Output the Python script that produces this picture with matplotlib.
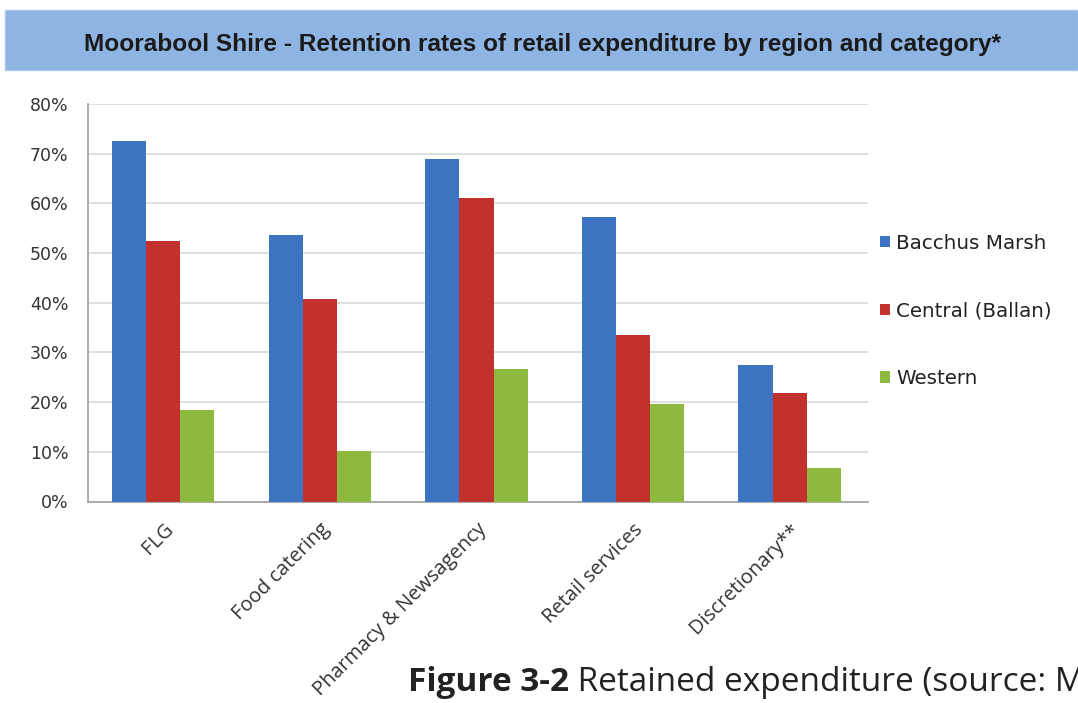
import matplotlib
matplotlib.use("Agg")
import matplotlib.pyplot as plt
from matplotlib.patches import Rectangle
from matplotlib.text import Annotation
from matplotlib import font_manager as fm
import numpy as np

categories = ["FLG", "Food catering", "Pharmacy & Newsagency", "Retail services", "Discretionary**"]
series_names = ["Bacchus Marsh", "Central (Ballan)", "Western"]
bacchus_marsh = [0.726, 0.537, 0.689, 0.572, 0.275]
central_ballan = [0.524, 0.408, 0.610, 0.335, 0.218]
western = [0.185, 0.101, 0.266, 0.196, 0.068]
y_ticks = [0.0, 0.1, 0.2, 0.3, 0.4, 0.5, 0.6, 0.7, 0.8]
y_tick_labels = ["0%", "10%", "20%", "30%", "40%", "50%", "60%", "70%", "80%"]
title = "Moorabool Shire - Retention rates of retail expenditure by region and category*"
caption_bold = "Figure 3-2"
caption_rest = " Retained expenditure (source: M"

colors = ["#3D74C2", "#C2312E", "#8DB93F"]

# pick the regular-width Liberation Sans Bold (not the Narrow variant)
title_font = None
for f in fm.fontManager.ttflist:
    if f.name == "Liberation Sans" and f.weight in (700, "bold") and f.style == "normal" \
            and "Narrow" not in f.fname:
        title_font = fm.FontProperties(fname=f.fname, size=17.6)
        break
if title_font is None:
    title_font = fm.FontProperties(family="DejaVu Sans", weight="bold", size=15.5)

W, H = 1078, 703
fig = plt.figure(figsize=(W / 100, H / 100), dpi=100)
fig.patch.set_facecolor("white")

# title banner
fig.patches.append(Rectangle((5 / W, 1 - 70 / H), 1 - 5 / W, 60 / H,
                             transform=fig.transFigure, facecolor="#8EB4E3",
                             edgecolor="#A9C6EA", linewidth=1, zorder=0))
fig.text(542 / W, 1 - 45 / H, title, ha="center", va="center",
         fontproperties=title_font, color="#1a1a1a")

ax = fig.add_axes([88 / W, 1 - 501.5 / H, (868 - 88) / W, (501.5 - 104) / H])
x = np.arange(len(categories))
bw = 0.218
for i, (vals, name) in enumerate(zip([bacchus_marsh, central_ballan, western], series_names)):
    ax.bar(x + (i - 1) * bw, vals, width=bw, color=colors[i], label=name, zorder=3)

ax.set_xlim(-0.48, len(categories) - 0.5)
ax.set_ylim(0, 0.8)
ax.set_yticks(y_ticks)
ax.set_yticklabels(y_tick_labels, family="DejaVu Sans", fontsize=12.5, color="#333333")
ax.yaxis.grid(True, color="#d9d9d9", linewidth=1.2, zorder=0)
ax.set_axisbelow(True)
ax.tick_params(axis="y", length=0, pad=14)
ax.tick_params(axis="x", length=0, pad=13)
ax.set_xticks(x)
ax.set_xticklabels(categories, rotation=45, ha="right", rotation_mode="anchor",
                   family="Open Sans", fontsize=14.5, color="#333333")
for s in ["top", "right"]:
    ax.spines[s].set_visible(False)
for s in ["left", "bottom"]:
    ax.spines[s].set_color("#a6a6a6")
    ax.spines[s].set_linewidth(1.3)

leg = fig.legend(loc="center left", bbox_to_anchor=(880 / W, 1 - 311 / H),
                 frameon=False, handlelength=0.5, handleheight=0.5,
                 handletextpad=0.3, labelspacing=2.45, borderpad=0, borderaxespad=0,
                 prop={"family": "DejaVu Sans", "size": 14.3})
for t in leg.get_texts():
    t.set_color("#222222")

cap1 = fig.text(408 / W, 1 - 691 / H, caption_bold, ha="left", va="baseline",
                fontsize=24, fontweight="bold", family="Open Sans", color="#222222")
a2 = Annotation(caption_rest, xy=(1, 0), xycoords=cap1, ha="left", va="bottom",
                fontsize=24, family="Open Sans", color="#222222")
fig.add_artist(a2)

fig.savefig("out.png", dpi=100)
